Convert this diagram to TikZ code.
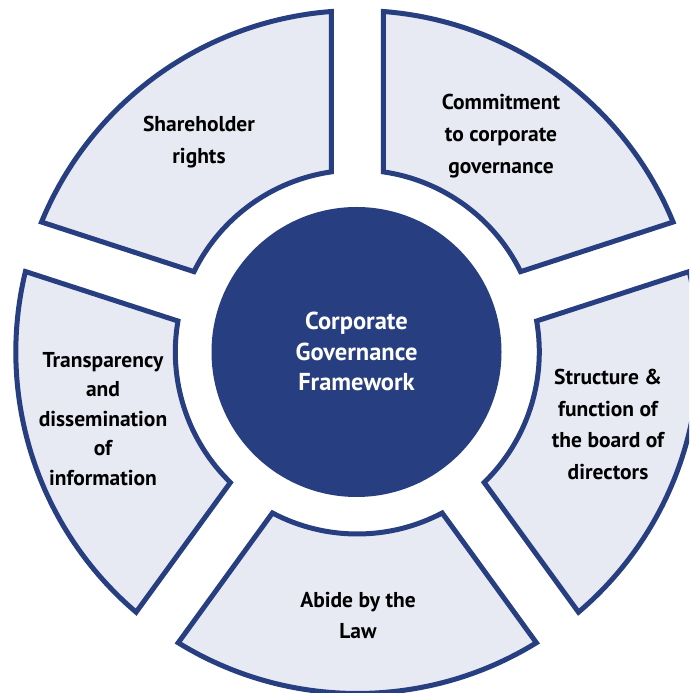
\documentclass[tikz,border=0pt]{standalone}
\usepackage{fontspec}
\setmainfont{PT Sans}
\definecolor{segfill}{RGB}{231,234,243}
\definecolor{navy}{RGB}{39,62,128}
\begin{document}
\begin{tikzpicture}[x=1pt,y=1pt,
  seg/.style={draw=navy,fill=segfill,line width=5pt,line join=miter},
  lab/.style={align=center,font=\bfseries\fontsize{21.5}{31.8}\selectfont,text=black,inner sep=0pt},
  hub/.style={circle,fill=navy,minimum size=290pt,inner sep=0pt}]
\useasboundingbox (0,0) rectangle (689,693);
\clip (0,0) rectangle (689,693);
\begin{scope}[shift={(357.3,341)}]
\foreach \a in {18,90,162,234,306}{
  \pgfmathsetmacro\sa{\a+8.2}
  \pgfmathsetmacro\so{\a+4.37}
  \pgfmathsetmacro\eo{\a+72-4.37}
  \pgfmathsetmacro\ei{\a+72-8.2}
  \draw[seg] (\sa:182) -- (\so:341.5) arc[start angle=\so, end angle=\eo, radius=341.5]
    -- (\ei:182) arc[start angle=\ei, end angle=\sa, radius=182] -- cycle;
}
\end{scope}
\node[hub] (core) at (356.5,341) {};
\node[lab,text=white,font=\bfseries\fontsize{24.5}{30.5}\selectfont] (corel) at (356.5,341.5) {Corporate\\Governance\\Framework};
\node[lab] (share) at (199,551) {Shareholder\\rights};
\node[lab] (commit) at (501,557) {Commitment\\to corporate\\governance};
\node[lab,font=\bfseries\fontsize{21.5}{29.5}\selectfont] (transp) at (103,274) {Transparency\\and\\dissemination\\of\\information};
\node[lab] (struct) at (608,268.5) {Structure \&\\function of\\the board of\\directors};
\node[lab] (abide) at (358,77.5) {Abide by the\\Law};
\end{tikzpicture}
\end{document}
